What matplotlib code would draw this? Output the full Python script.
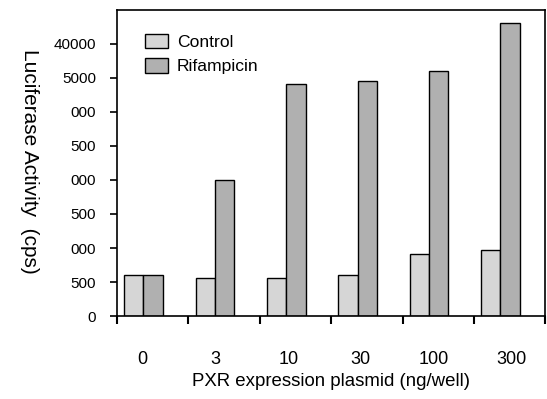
import matplotlib.pyplot as plt
import numpy as np

plt.rcParams['font.family'] = ['Liberation Sans', 'DejaVu Sans']

doses = ["0", "3", "10", "30", "100", "300"]
control = [600, 565, 565, 600, 910, 970]
rifampicin = [600, 2000, 3410, 3460, 3605, 4315]
ytick_vals = [0, 500, 1000, 1500, 2000, 2500, 3000, 3500, 4000]
ytick_txt = ["0", "500", "000", "500", "000", "500", "000", "5000", "40000"]

fig = plt.figure(figsize=(5.47, 3.99), dpi=100)
ax = fig.add_axes([0.214, 0.208, 0.783, 0.767])

x = np.arange(len(doses))
w = 0.27
ax.bar(x + 0.37 - w / 2, control, w, color="#d6d6d6", edgecolor="black",
       linewidth=1.0, label="Control")
ax.bar(x + 0.37 + w / 2, rifampicin, w, color="#b0b0b0", edgecolor="black",
       linewidth=1.0, label="Rifampicin")

ax.set_xlim(0, 6)
ax.set_ylim(0, 4500)
ax.set_xticks(np.arange(7))
ax.set_xticklabels([])
ax.set_xticks(x + np.array([0.35, 0.37, 0.41, 0.41, 0.43, 0.52]), minor=True)
ax.set_xticklabels(doses, minor=True, fontsize=13)
ax.tick_params(axis="x", which="major", direction="out", length=6, width=1.5)
ax.tick_params(axis="x", which="minor", length=0, pad=25)
ax.set_yticks(ytick_vals)
ax.set_yticklabels(ytick_txt, fontsize=11)
ax.tick_params(axis="y", direction="out", length=5, width=1.2, pad=10)
for s in ax.spines.values():
    s.set_linewidth(1.2)

ax.set_xlabel("PXR expression plasmid (ng/well)", fontsize=13.4, labelpad=4)
ax.set_ylabel("Luciferase Activity  (cps)", fontsize=15, rotation=270)
ax.yaxis.set_label_coords(-0.227, 0.505)

ax.legend(loc="upper left", bbox_to_anchor=(0.05, 0.945), frameon=False,
          fontsize=12.6, handlelength=1.3, handleheight=0.9, handletextpad=0.5,
          labelspacing=0.45, borderaxespad=0)

fig.savefig("out.png", dpi=100)
